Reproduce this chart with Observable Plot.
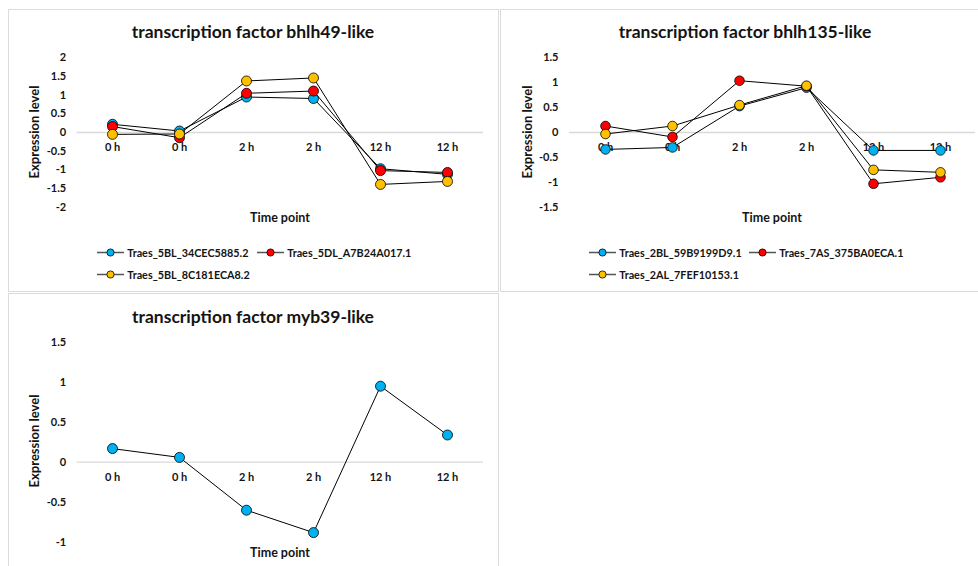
<!DOCTYPE html>
<html>
<head>
<meta charset="utf-8">
<script src="https://cdn.jsdelivr.net/npm/d3@7"></script>
<script src="https://cdn.jsdelivr.net/npm/@observablehq/plot@0.6"></script>
<style>
  html, body { margin: 0; padding: 0; background: #fff; }
  #page { position: relative; width: 978px; height: 566px; overflow: hidden; font-family: Lato, "Noto Sans", sans-serif; color: #141414; }
  .box { position: absolute; border: 1.5px solid #dcdcdc; box-sizing: border-box; }
  .abs { position: absolute; white-space: nowrap; font-weight: 700; }
  .title { font-size: 17.5px; transform: translate(-50%, -50%); }
  .xlab { font-size: 12.5px; transform: translate(-50%, -50%); }
  .ylab { font-size: 13px; transform: translate(-50%, -50%) rotate(-90deg); }
  .leg { position: absolute; display: flex; align-items: center; transform: translateY(-50%); font-size: 10.8px; font-weight: 700; white-space: nowrap; }
  .leg svg { display: block; margin-right: 3px; }
  .plotwrap { position: absolute; }
</style>
</head>
<body>
<div id="page"></div>
<script>
// ---- data ----
const timeLabels = ["0 h", "0 h", "2 h", "2 h", "12 h", "12 h"];
const seriesColors = ["#00B0F0", "#FF0000", "#FFC000"];

const bhlh49Title = "transcription factor bhlh49-like";
const bhlh49Genes = ["Traes_5BL_34CEC5885.2", "Traes_5DL_A7B24A017.1", "Traes_5BL_8C181ECA8.2"];
const bhlh49_5BL_34CEC5885 = [0.22, 0.04, 0.95, 0.91, -0.97, -1.12];
const bhlh49_5DL_A7B24A017 = [0.16, -0.14, 1.05, 1.11, -1.02, -1.07];
const bhlh49_5BL_8C181ECA8 = [-0.05, -0.04, 1.38, 1.46, -1.39, -1.31];
const bhlh49Ticks = [-2, -1.5, -1, -0.5, 0, 0.5, 1, 1.5, 2];

const bhlh135Title = "transcription factor bhlh135-like";
const bhlh135Genes = ["Traes_2BL_59B9199D9.1", "Traes_7AS_375BA0ECA.1", "Traes_2AL_7FEF10153.1"];
const bhlh135_2BL_59B9199D9 = [-0.34, -0.30, 0.53, 0.90, -0.36, -0.36];
const bhlh135_7AS_375BA0ECA = [0.13, -0.09, 1.04, 0.93, -1.03, -0.90];
const bhlh135_2AL_7FEF10153 = [-0.03, 0.13, 0.55, 0.94, -0.75, -0.80];
const bhlh135Ticks = [-1.5, -1, -0.5, 0, 0.5, 1, 1.5];

const myb39Title = "transcription factor myb39-like";
const myb39Values = [0.17, 0.06, -0.60, -0.88, 0.95, 0.34];
const myb39Ticks = [-1, -0.5, 0, 0.5, 1, 1.5];

const xLabel = "Time point";
const yLabel = "Expression level";

// ---- helpers ----
const page = document.getElementById("page");
function el(cls, text, x, y, extra) {
  const d = document.createElement("div");
  d.className = cls;
  d.textContent = text;
  d.style.left = x + "px";
  d.style.top = y + "px";
  if (extra) Object.assign(d.style, extra);
  page.appendChild(d);
  return d;
}
function box(x, y, w, h) {
  const d = document.createElement("div");
  d.className = "box";
  Object.assign(d.style, {left: x + "px", top: y + "px", width: w + "px", height: h + "px"});
  page.appendChild(d);
}

function panel({series, ticks, left, top, width, height, mL, mR, mT, mB, r}) {
  const idx = timeLabels.map((_, i) => i);
  const marks = [
    Plot.ruleY([0], {stroke: "#d9d9d9", strokeWidth: 1.3}),
    Plot.axisY(ticks, {tickSize: 0, tickPadding: 11, tickFormat: d => String(d), fontWeight: "bold", fontSize: 11, label: null}),
    Plot.text(idx, {x: i => i, y: () => 0, text: i => timeLabels[i], dy: 15, fontWeight: "bold", fontSize: 11})
  ];
  series.forEach((s) => {
    const pts = s.values.map((v, i) => ({i, v}));
    marks.push(Plot.line(pts, {x: "i", y: "v", stroke: "#000", strokeWidth: 1}));
    marks.push(Plot.dot(pts, {x: "i", y: "v", r, fill: s.color, stroke: "#000", strokeWidth: 0.8}));
  });
  const svg = Plot.plot({
    width, height,
    marginLeft: mL, marginRight: mR, marginTop: mT, marginBottom: mB,
    style: {background: "none", fontFamily: "Lato, 'Noto Sans', sans-serif", color: "#141414", overflow: "visible"},
    x: {type: "point", domain: idx, padding: 0.5, axis: null},
    y: {domain: [ticks[0], ticks[ticks.length - 1]], axis: null},
    marks
  });
  const w = document.createElement("div");
  w.className = "plotwrap";
  w.style.left = left + "px";
  w.style.top = top + "px";
  w.appendChild(svg);
  page.appendChild(w);
}

function legendItem(name, color, x, y) {
  const d = document.createElement("div");
  d.className = "leg";
  d.style.left = x + "px";
  d.style.top = y + "px";
  d.innerHTML = `<svg width="27" height="10"><line x1="0" x2="27" y1="5" y2="5" stroke="#555" stroke-width="1.3"/><circle cx="13.5" cy="5" r="3.6" fill="${color}" stroke="#000" stroke-width="0.8"/></svg><span></span>`;
  d.querySelector("span").textContent = name;
  page.appendChild(d);
}

// ---- boxes ----
box(8, 9, 491, 283);
box(500, 9, 490, 283);
box(8, 293, 491, 290);

// ---- panel 1 ----
panel({
  series: [
    {values: bhlh49_5BL_34CEC5885, color: seriesColors[0]},
    {values: bhlh49_5DL_A7B24A017, color: seriesColors[1]},
    {values: bhlh49_5BL_8C181ECA8, color: seriesColors[2]}
  ],
  ticks: bhlh49Ticks, left: 0, top: 0, width: 498, height: 290,
  mL: 76.7, mR: 15, mT: 57.3, mB: 83.3, r: 5
});
el("abs title", bhlh49Title, 253, 30.7);
el("abs ylab", yLabel, 34, 131.7);
el("abs xlab", xLabel, 280, 217);
legendItem(bhlh49Genes[0], seriesColors[0], 97.3, 252.3);
legendItem(bhlh49Genes[1], seriesColors[1], 257.3, 252.3);
legendItem(bhlh49Genes[2], seriesColors[2], 97.3, 274.3);

// ---- panel 2 ----
panel({
  series: [
    {values: bhlh135_2BL_59B9199D9, color: seriesColors[0]},
    {values: bhlh135_7AS_375BA0ECA, color: seriesColors[1]},
    {values: bhlh135_2AL_7FEF10153, color: seriesColors[2]}
  ],
  ticks: bhlh135Ticks, left: 500, top: 0, width: 478, height: 290,
  mL: 69, mR: 3, mT: 57.3, mB: 83.3, r: 4.8
});
el("abs title", bhlh135Title, 745, 30.7);
el("abs ylab", yLabel, 527, 131.7);
el("abs xlab", xLabel, 772, 217);
legendItem(bhlh135Genes[0], seriesColors[0], 589.3, 252.3);
legendItem(bhlh135Genes[1], seriesColors[1], 749.3, 252.3);
legendItem(bhlh135Genes[2], seriesColors[2], 589.3, 274.3);

// ---- panel 3 ----
panel({
  series: [{values: myb39Values, color: seriesColors[0]}],
  ticks: myb39Ticks, left: 0, top: 293, width: 498, height: 273,
  mL: 76.7, mR: 15, mT: 48.7, mB: 24.3, r: 5
});
el("abs title", myb39Title, 253, 316);
el("abs ylab", yLabel, 34, 441);
el("abs xlab", xLabel, 280, 552);
</script>
</body>
</html>
